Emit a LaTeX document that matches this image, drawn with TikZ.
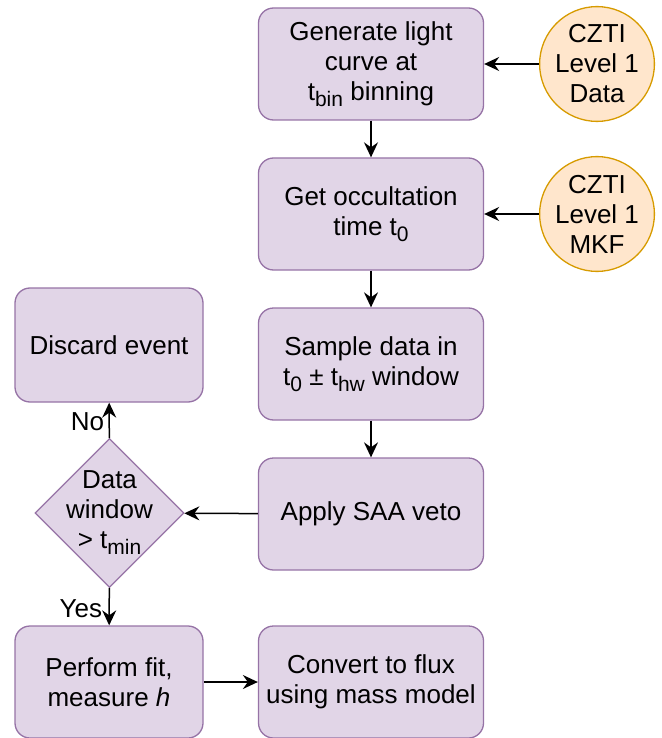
\documentclass[tikz,border=0pt]{standalone}
\usepackage{fontspec}
\setmainfont{Liberation Sans}
\usetikzlibrary{positioning}
\usetikzlibrary{shapes.geometric}
\usetikzlibrary{arrows.meta}
\definecolor{stepfill}{HTML}{E1D5E7}
\definecolor{stepline}{HTML}{9673A6}
\definecolor{srcfill}{HTML}{FFE6CC}
\definecolor{srcline}{HTML}{D79B00}
\newcommand{\lowtext}[1]{\raisebox{-6pt}{\fontsize{21}{21}\selectfont #1}}

\begin{document}
\begin{tikzpicture}[x=1pt, y=-1pt,
		every node/.style={font=\fontsize{26}{30}\selectfont, align=center},
		stepbox/.style={rectangle, rounded corners=15pt, draw=stepline, fill=stepfill, line width=1.3pt, minimum width=225pt, minimum height=112pt, inner sep=0pt},
		sidebox/.style={stepbox, minimum width=188pt},
		srcnode/.style={circle, draw=srcline, fill=srcfill, line width=1.3pt, minimum size=114pt, inner sep=0pt},
		testnode/.style={diamond, draw=stepline, fill=stepfill, line width=1.3pt, minimum size=149pt, inner sep=0pt},
		arr/.style={-{Stealth[length=15pt,width=14pt,inset=5pt]}, line width=1.5pt}]
				\useasboundingbox (0,0) rectangle (661,738);
				% main column
				\node[stepbox] (L1) at (371,64) {Generate light\\curve at\\t\lowtext{bin} binning};
				\node[stepbox] (T1) at (371,214) {Get occultation\\time t\lowtext{0}};
				\node[stepbox] (S1) at (371,364) {Sample data in\\t\lowtext{0} \textpm{} t\lowtext{hw} window};
				\node[stepbox] (V1) at (371,514) {Apply SAA veto};
				\node[stepbox] (F1) at (371,682) {Convert to flux\\using mass model};
				% inputs
				\node[srcnode] (D1) at (597,64) {CZTI\\Level 1\\Data};
				\node[srcnode] (M1) at (597,214) {CZTI\\Level 1\\MKF};
				% left column
				\node[sidebox, minimum height=114pt] (X1) at (109,345) {Discard event};
				\node[testnode, label={[align=center]center:Data\\window\\> t\lowtext{min}}] (W1) at (109.5,513) {};
				\node[sidebox] (P1) at (109,682) {Perform fit,\\measure \textit{h}};
				
				\draw[arr] (D1) -- (L1);
				\draw[arr] (M1) -- (T1);
				\draw[arr] (L1) -- (T1);
				\draw[arr] (T1) -- (S1);
				\draw[arr] (S1) -- (V1);
				\draw[arr] (V1) -- (W1);
				\draw[arr] (W1) -- node[left=1pt, pos=0.45] {No} (X1);
				\draw[arr] (W1) -- node[left=3pt, pos=0.55] {Yes} (P1);
				\draw[arr] (P1) -- (F1);
			\end{tikzpicture}
\end{document}
